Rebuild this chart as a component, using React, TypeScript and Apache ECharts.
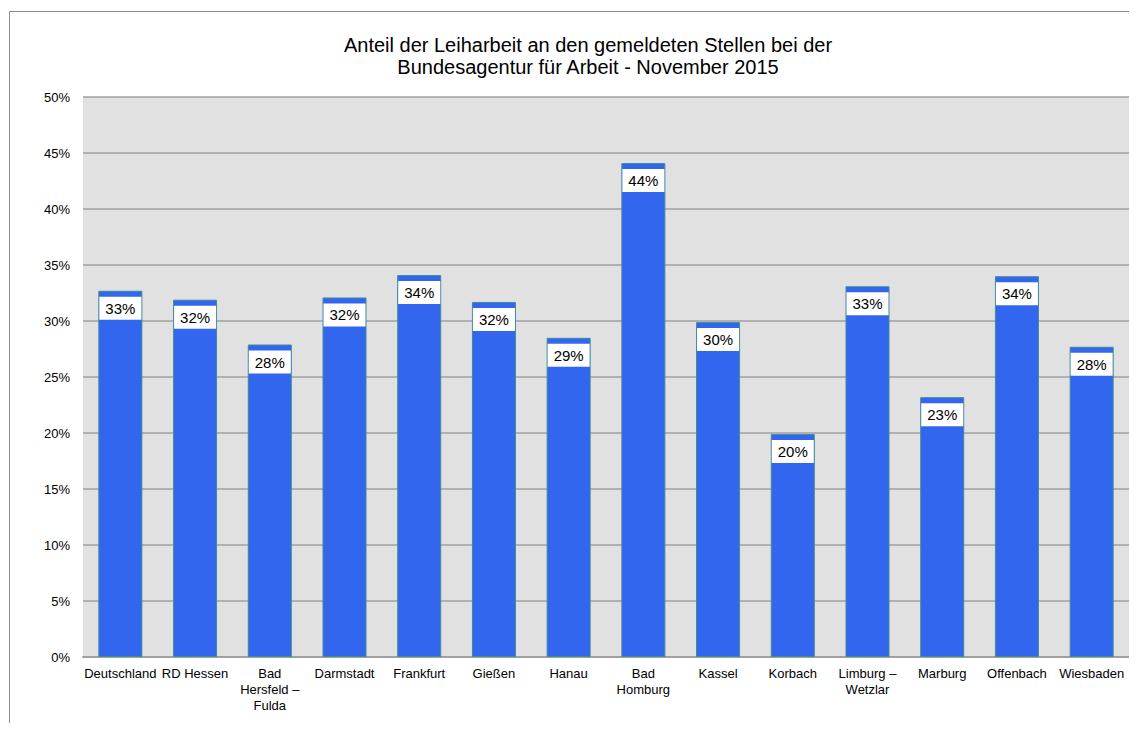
import React, { useEffect, useRef } from "react";
import * as echarts from "echarts";

const categories = [
  "Deutschland",
  "RD Hessen",
  "Bad\nHersfeld –\nFulda",
  "Darmstadt",
  "Frankfurt",
  "Gießen",
  "Hanau",
  "Bad\nHomburg",
  "Kassel",
  "Korbach",
  "Limburg –\nWetzlar",
  "Marburg",
  "Offenbach",
  "Wiesbaden",
];
const values = [32.7, 31.9, 27.9, 32.1, 34.1, 31.7, 28.5, 44.1, 29.9, 19.9, 33.1, 23.2, 34.0, 27.7];
const titleLines = [
  "Anteil der Leiharbeit an den gemeldeten Stellen bei der",
  "Bundesagentur für Arbeit - November 2015",
];

export default function App() {
  const ref = useRef<HTMLDivElement>(null);
  useEffect(() => {
    if (!ref.current) return;
    const chart = echarts.init(ref.current, undefined, { renderer: "svg" });
    const font = "'Liberation Sans', Arial, sans-serif";
    chart.setOption({
      animation: false,
      textStyle: { fontFamily: font },
      title: {
        text: titleLines.join("\n"),
        left: 575,
        top: 21,
        textAlign: "center",
        textStyle: { fontSize: 20, fontWeight: "normal", color: "#000", lineHeight: 22, fontFamily: font },
      },
      graphic: [
        {
          type: "rect",
          shape: { x: 1.5, y: 3.5, width: 1300, height: 900 },
          style: { fill: "none", stroke: "#8c8c8c", lineWidth: 1 },
          silent: true,
          z: -1,
        },
      ],
      grid: {
        left: 75,
        right: 8,
        top: 89,
        bottom: 66,
        show: true,
        backgroundColor: "#e1e1e1",
        borderWidth: 0,
      },
      xAxis: {
        type: "category",
        data: categories,
        axisLine: { lineStyle: { color: "#a0a0a0", width: 2 } },
        axisTick: { show: false },
        axisLabel: { color: "#000", fontSize: 13, lineHeight: 16, margin: 8, interval: 0, fontFamily: font },
      },
      yAxis: {
        type: "value",
        min: 0,
        max: 50,
        interval: 5,
        axisLine: { show: false },
        axisTick: { show: false },
        splitLine: { lineStyle: { color: "#a0a0a0", width: 1.5 } },
        axisLabel: { color: "#000", fontSize: 13, margin: 13, formatter: "{value}%", fontFamily: font },
      },
      series: [
        {
          type: "bar",
          data: values,
          barWidth: 44,
          itemStyle: { color: "#3366ee", borderColor: "#3f8c99", borderWidth: 1 },
          label: {
            show: true,
            position: "insideTop",
            distance: 6,
            formatter: (p: any) => Math.round(p.value) + "%",
            color: "#000",
            fontSize: 15,
            lineHeight: 17,
            backgroundColor: "#fff",
            padding: [3, 6],
            fontFamily: font,
          },
        },
      ],
    });
    return () => chart.dispose();
  }, []);
  return <div ref={ref} style={{ width: 1129, height: 715 }} />;
}
